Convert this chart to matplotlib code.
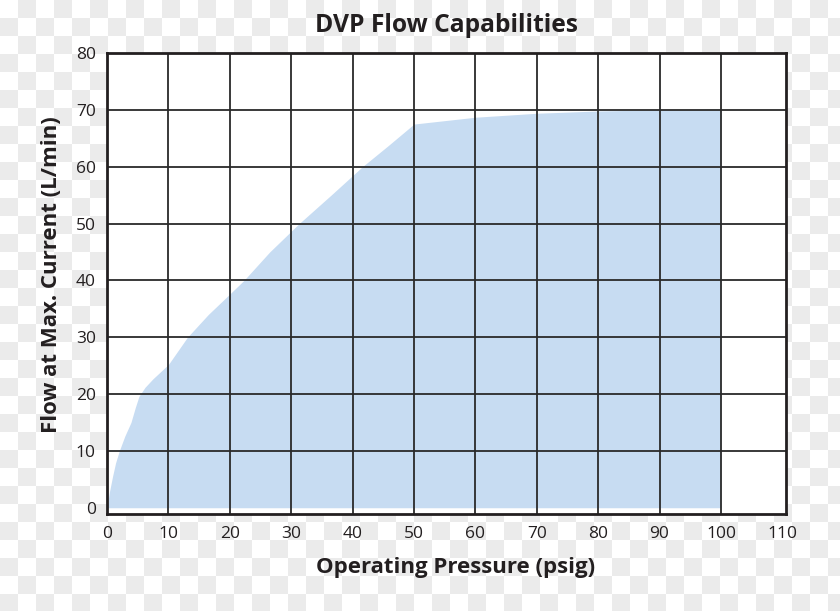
import numpy as np
import matplotlib
matplotlib.use("Agg")
import matplotlib.pyplot as plt

# ---- data ----
pressure = [0, 0.4, 0.9, 1.4, 2.0, 2.9, 3.9, 4.6, 5.2, 6.2, 7.5, 10.0, 13.1, 16.5, 20.0, 22.3,
            26.5, 31.3, 36.5, 41.6, 45.8, 50.0, 60.0, 70.0, 80.0, 90.0, 100.0]
flow     = [0, 2.8, 5.5, 7.9, 10.0, 12.6, 15.0, 17.6, 19.6, 21.2, 22.7, 25.2, 30.0, 34.0, 37.6, 40.0,
            45.0, 50.0, 55.0, 60.0, 63.7, 67.5, 68.7, 69.4, 69.8, 70.0, 70.2]
x_ticks = [0, 10, 20, 30, 40, 50, 60, 70, 80, 90, 100, 110]
y_ticks = [0, 10, 20, 30, 40, 50, 60, 70, 80]
title = "DVP Flow Capabilities"
x_label = "Operating Pressure (psig)"
y_label = "Flow at Max. Current (L/min)"

FONT = "Open Sans"
TXT = "#231f20"

fig = plt.figure(figsize=(8.4, 6.11), dpi=100)

# checkerboard background (transparency placeholder look)
W, H, s = 840, 611, 18
yy, xx = np.mgrid[0:H, 0:W]
chk = ((xx // s + yy // s) % 2).astype(float)
bg = np.where(chk[..., None] == 1, np.array([0.922, 0.922, 0.922]), np.array([1.0, 1.0, 1.0]))
fig.figimage(bg, xo=0, yo=0, origin="upper", zorder=-10)
fig.patch.set_alpha(0)

ax = fig.add_axes([107 / 840, 1 - 514 / 611, (786 - 107) / 840, (514 - 53) / 611])
ax.set_facecolor("white")
ax.fill_between(pressure, flow, 0, color="#c7dcf2", lw=0, zorder=1, antialiased=True)

ax.set_xlim(0, 110.6)
ax.set_ylim(-1.1, 80)
ax.set_xticks(x_ticks)
ax.set_yticks(y_ticks)
ax.set_xticklabels([str(v) for v in x_ticks], fontfamily=FONT, fontsize=12.5, color=TXT)
ax.set_yticklabels([str(v) for v in y_ticks], fontfamily=FONT, fontsize=12.5, color=TXT)
ax.tick_params(axis="both", length=0)
ax.tick_params(axis="x", pad=9)
ax.tick_params(axis="y", pad=8)

ax.grid(True, color="#2a2a2a", lw=1.3, zorder=2)
ax.set_axisbelow(False)
ax.get_ygridlines()[0].set_visible(False)
ax.get_xgridlines()[0].set_visible(False)
ax.get_xgridlines()[-1].set_visible(False)
for sp in ax.spines.values():
    sp.set_color(TXT)
    sp.set_linewidth(2.0)
    sp.set_zorder(3)

fig.text(446.5 / 840, 1 - 25 / 611, title, ha="center", va="center",
         fontfamily=FONT, fontweight="bold", fontsize=17.7, color=TXT)
fig.text(456 / 840, 1 - 567 / 611, x_label, ha="center", va="center",
         fontfamily=FONT, fontweight="bold", fontsize=16, color=TXT)
fig.text(52 / 840, 1 - 275 / 611, y_label, ha="center", va="center", rotation=90,
         fontfamily=FONT, fontweight="bold", fontsize=16, color=TXT)

fig.savefig("out.png", dpi=100)
